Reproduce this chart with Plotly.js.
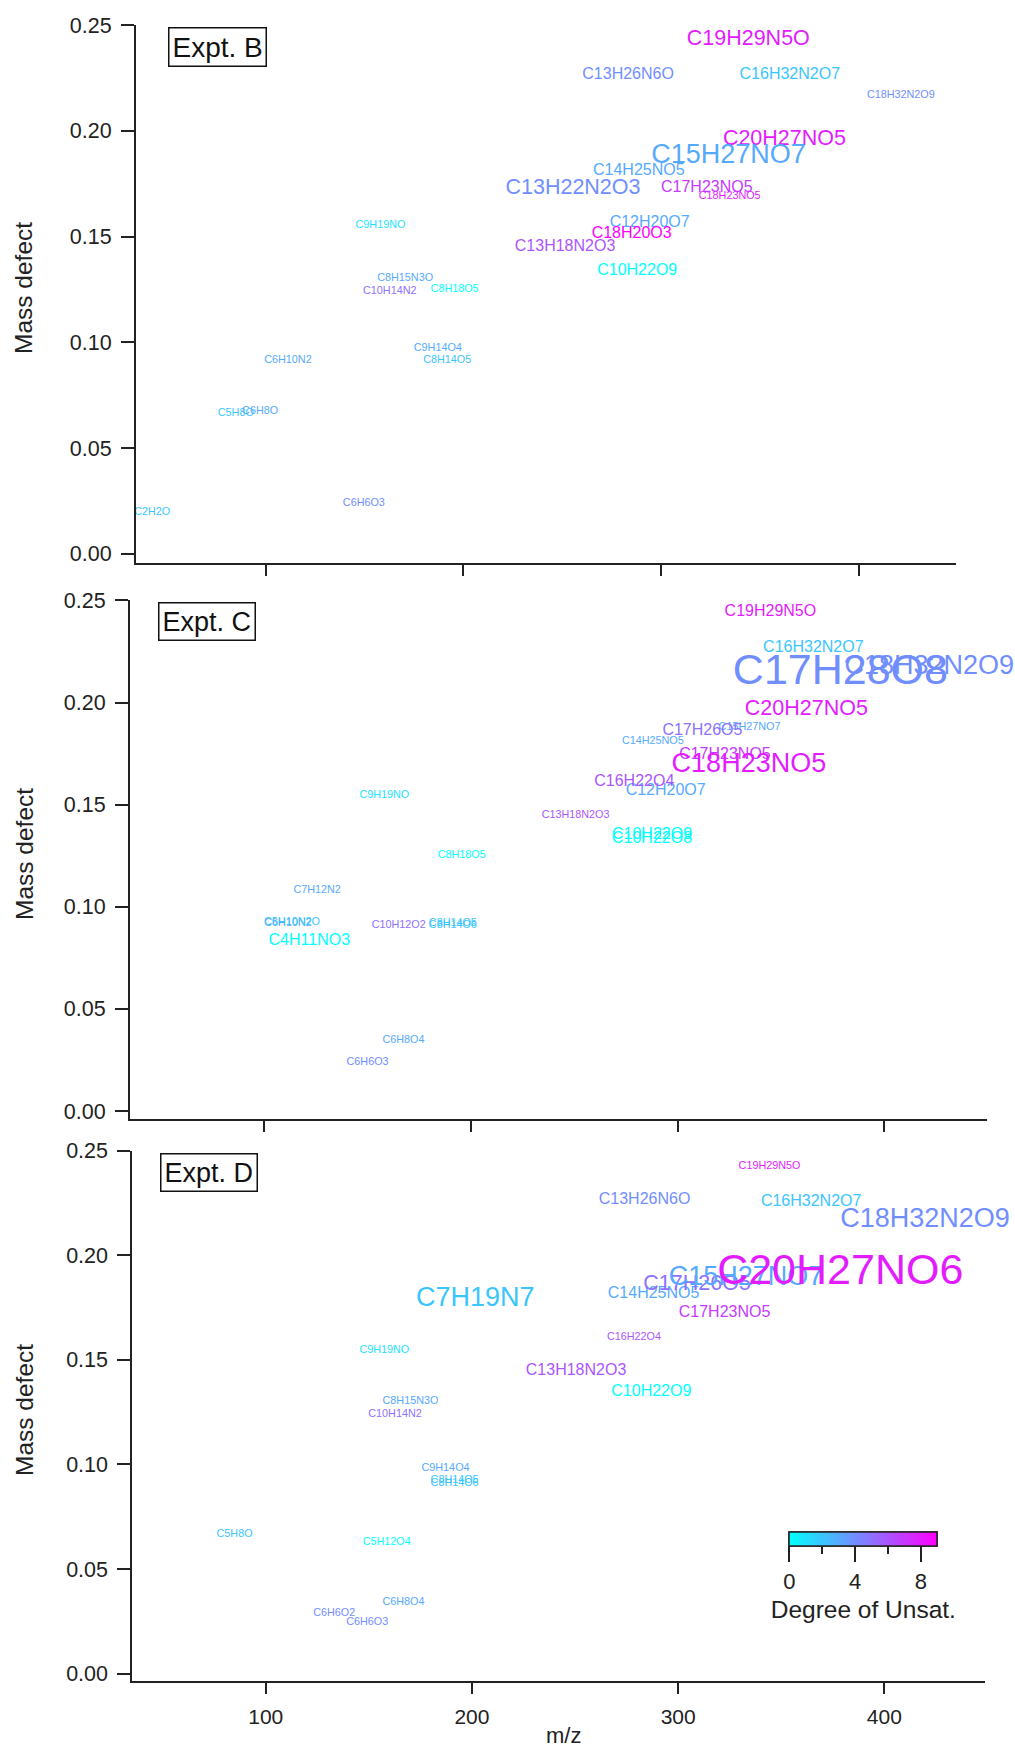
<!DOCTYPE html>
<html>
<head>
<meta charset="utf-8">
<script src="https://cdn.plot.ly/plotly-3.0.1.min.js"></script>
<style>
  html, body { margin: 0; padding: 0; background: #ffffff; }
  #chart { width: 1015px; height: 1749px; }
</style>
</head>
<body>
<div id="chart"></div>
<script>
// ---------------- DATA ----------------
// Panel: Expt. B
const formulaB = ["C2H2O","C5H8O","C6H8O","C6H10N2","C6H6O3","C9H14O4","C8H14O5","C8H15N3O","C10H14N2","C8H18O5","C9H19NO",
  "C10H22O9","C13H18N2O3","C12H20O7","C18H20O3","C13H22N2O3","C14H25NO5","C18H23NO5","C17H23NO5","C20H27NO5","C15H27NO7",
  "C13H26N6O","C16H32N2O7","C18H32N2O9","C19H29N5O"];
const mzB = [42.6,84.9,97.2,111.3,149.7,187.1,191.9,170.6,162.8,195.6,158.1,
  288.0,251.5,294.3,285.2,255.5,288.8,334.8,323.2,362.5,334.2,
  283.4,365.2,421.4,344.2];
const defectB = [0.0196,0.0663,0.0672,0.0913,0.0240,0.0974,0.0913,0.1303,0.1241,0.1249,0.1552,
  0.1339,0.1452,0.1566,0.1512,0.1729,0.1812,0.1689,0.1729,0.1957,0.1878,
  0.2265,0.2265,0.2170,0.2430];
const unsatB = [2,2,3,3,4,3,2,3,5,0,1,
  0,6,3,9,4,3,8,7,8,3,
  4,2,4,8];
const intensityB = [1,1,1,1,1,1,1,1,1,1,1,
  2,2,2,2,3,2,1,2,3,4,
  2,2,1,3];

// Panel: Expt. C
const formulaC = ["C6H6O3","C6H8O4","C4H11NO3","C6H10N2","C5H10N2O","C7H12N2","C10H12O2","C8H14O5","C8H14O6","C8H18O5","C9H19NO",
  "C10H22O8","C10H22O9","C13H18N2O3","C12H20O7","C16H22O4","C14H25NO5","C17H23NO5","C18H23NO5","C15H27NO7","C17H26O5",
  "C20H27NO5","C16H32N2O7","C19H29N5O","C17H28O8","C18H32N2O9"];
const mzC = [149.9,167.3,121.7,111.4,113.3,125.5,165.0,191.2,191.2,195.5,158.0,
  287.6,287.6,250.6,294.2,279.0,288.0,322.9,334.5,334.8,312.0,
  362.3,365.7,344.9,378.8,421.8];
const defectC = [0.0239,0.0346,0.0834,0.0921,0.0925,0.1079,0.0909,0.0921,0.0909,0.1250,0.1544,
  0.1330,0.1351,0.1446,0.1568,0.1612,0.1811,0.1743,0.1694,0.1877,0.1862,
  0.1963,0.2265,0.2441,0.2143,0.2172];
const unsatC = [4,3,0,3,2,3,5,2,2,0,1,
  0,0,6,3,6,3,7,8,3,5,
  8,2,8,4,4];
const intensityC = [1,1,2,1,1,1,1,1,1,1,1,
  2,2,1,2,2,1,2,4,1,2,
  3,2,2,5,4];

// Panel: Expt. D
const formulaD = ["C6H6O3","C6H6O2","C6H8O4","C5H12O4","C5H8O","C9H14O4","C8H14O6","C8H14O5","C10H14N2","C8H15N3O","C9H19NO",
  "C10H22O9","C13H18N2O3","C16H22O4","C17H23NO5","C14H25NO5","C7H19N7","C17H26O5","C15H27NO7","C20H27NO6",
  "C18H32N2O9","C16H32N2O7","C13H26N6O","C19H29N5O"];
const mzD = [149.2,133.2,166.8,158.7,84.9,187.2,191.6,191.6,162.7,170.2,157.5,
  287.0,250.5,278.6,322.5,288.1,201.6,309.2,332.9,378.6,
  419.7,364.5,283.7,344.3];
const defectD = [0.0243,0.0290,0.0339,0.0626,0.0664,0.0979,0.0912,0.0922,0.1240,0.1300,0.1545,
  0.1347,0.1446,0.1605,0.1725,0.1813,0.1790,0.1861,0.1889,0.1913,
  0.2168,0.2255,0.2263,0.2426];
const unsatD = [4,4,3,0,2,3,2,2,5,3,1,
  0,6,6,7,3,2,5,3,8,
  4,2,4,8];
const intensityD = [1,1,1,1,1,1,1,1,1,1,1,
  2,2,1,2,2,4,3,4,5,
  4,2,2,1];

const panelNames = ["Expt. B","Expt. C","Expt. D"];
const xTicks = [100,200,300,400];
const yTicks = [0,0.05,0.10,0.15,0.20,0.25];
const unsatTicks = [0,4,8];
const unsatMinorTicks = [2,6];
const unsatRange = [0,9];

// ---------------- STYLE ----------------
const W = 1015, H = 1749;
const FONT = "Liberation Sans, Arial, Helvetica, sans-serif";
const INK = "#222222";
const sizeForClass = {1:10.8, 2:16, 3:21.5, 4:27, 5:43};
const colorscale = [[0,"rgb(0,255,255)"],[1,"rgb(255,0,255)"]];
function unsatColor(d){
  const t = Math.max(0, Math.min(1, (d - unsatRange[0])/(unsatRange[1]-unsatRange[0])));
  const r = Math.round(255*t), g = Math.round(255*(1-t));
  return "rgb(" + r + "," + g + ",255)";
}
const px = x => x / W;
const py = y => 1 - y / H;

// panel geometry (pixels)
const geo = [
  {x0:136, x1:956, yTop:25.2, yBot:563, xr:[34.4,449.3], yr:[-0.00435,0.25], box:[217,47.2], boxFont:28, ylab:288},
  {x0:130, x1:987.3, yTop:600.4, yBot:1119, xr:[34.9,449.9], yr:[-0.0039,0.25], box:[207.2,621.2], boxFont:27, ylab:854},
  {x0:132.3, x1:985, yTop:1150.5, yBot:1681.2, xr:[35.3,448.8], yr:[-0.0036,0.25], box:[208.8,1172.5], boxFont:27, ylab:1410}
];

const panels = [
  {f:formulaB, x:mzB, y:defectB, u:unsatB, s:intensityB},
  {f:formulaC, x:mzC, y:defectC, u:unsatC, s:intensityC},
  {f:formulaD, x:mzD, y:defectD, u:unsatD, s:intensityD}
];

const traces = [];
panels.forEach((p, i) => {
  const suf = i === 0 ? "" : String(i+1);
  traces.push({
    type: "scatter", mode: "text",
    x: p.x, y: p.y, text: p.f,
    xaxis: "x" + suf, yaxis: "y" + suf,
    textposition: "middle center",
    textfont: { family: FONT, size: p.s.map(c => sizeForClass[c]), color: p.u.map(unsatColor) },
    cliponaxis: false, hoverinfo: "text", showlegend: false
  });
});

const cbBase = {
  orientation: "h", lenmode: "pixels", len: 148, thickness: 14,
  x: px(863.3), xanchor: "center", y: py(1531.7), yanchor: "top",
  xpad: 0, ypad: 0, outlinewidth: 1.5, outlinecolor: INK,
  ticks: "outside", tickcolor: INK, tickwidth: 2
};
// colour bar (major ticks + title)
traces.push({
  type: "scatter", mode: "markers", x: mzD, y: defectD, xaxis: "x3", yaxis: "y3",
  hoverinfo: "skip", showlegend: false,
  marker: { color: unsatD, colorscale: colorscale, cmin: unsatRange[0], cmax: unsatRange[1], opacity: 0, size: 1,
    showscale: true,
    colorbar: Object.assign({}, cbBase, {
      tickvals: unsatTicks, ticklen: 16,
      tickfont: { family: FONT, size: 22, color: INK },
      title: { text: "Degree of Unsat.", side: "bottom", font: { family: FONT, size: 24.5, color: INK } }
    })
  }
});
// colour bar (minor ticks)
traces.push({
  type: "scatter", mode: "markers", x: mzD, y: defectD, xaxis: "x3", yaxis: "y3",
  hoverinfo: "skip", showlegend: false,
  marker: { color: unsatD, colorscale: colorscale, cmin: unsatRange[0], cmax: unsatRange[1], opacity: 0, size: 1,
    showscale: true,
    colorbar: Object.assign({}, cbBase, { tickvals: unsatMinorTicks, ticklen: 8, showticklabels: false })
  }
});

const layout = {
  width: W, height: H, autosize: false,
  margin: { l: 0, r: 0, t: 0, b: 0, pad: 0 },
  paper_bgcolor: "#ffffff", plot_bgcolor: "rgba(0,0,0,0)",
  font: { family: FONT, color: INK },
  showlegend: false,
  annotations: []
};

geo.forEach((g, i) => {
  const suf = i === 0 ? "" : String(i+1);
  layout["xaxis" + suf] = {
    domain: [px(g.x0), px(g.x1)], range: g.xr, anchor: "y" + suf,
    showgrid: false, zeroline: false, showline: true, linecolor: INK, linewidth: 2,
    ticks: "outside", ticklen: 11, tickwidth: 2, tickcolor: INK,
    tickvals: xTicks, showticklabels: i === 2, ticklabelstandoff: 5,
    tickfont: { family: FONT, size: 21, color: INK }, fixedrange: true
  };
  layout["yaxis" + suf] = {
    domain: [py(g.yBot), py(g.yTop)], range: g.yr, anchor: "x" + suf,
    showgrid: false, zeroline: false, showline: true, linecolor: INK, linewidth: 2,
    ticks: "outside", ticklen: 13, tickwidth: 2, tickcolor: INK,
    tickvals: yTicks, tickformat: ".2f", ticklabelstandoff: 5,
    tickfont: { family: FONT, size: 21.5, color: INK }, fixedrange: true
  };
  layout.annotations.push({
    xref: "paper", yref: "paper", x: px(g.box[0]), y: py(g.box[1]),
    xanchor: "center", yanchor: "middle", showarrow: false,
    text: panelNames[i], font: { family: FONT, size: g.boxFont, color: "#111" },
    bordercolor: "#111", borderwidth: 1.5, borderpad: 3, bgcolor: "#ffffff"
  });
  layout.annotations.push({
    xref: "paper", yref: "paper", x: px(24), y: py(g.ylab),
    xanchor: "center", yanchor: "middle", showarrow: false, textangle: -90,
    text: "Mass defect", font: { family: FONT, size: 24.5, color: INK }
  });
});
layout.annotations.push({
  xref: "paper", yref: "paper", x: px(563), y: py(1735),
  xanchor: "center", yanchor: "middle", showarrow: false,
  text: "m/z", font: { family: FONT, size: 22, color: INK }
});

Plotly.newPlot("chart", traces, layout, { displayModeBar: false, staticPlot: true });
</script>
</body>
</html>
